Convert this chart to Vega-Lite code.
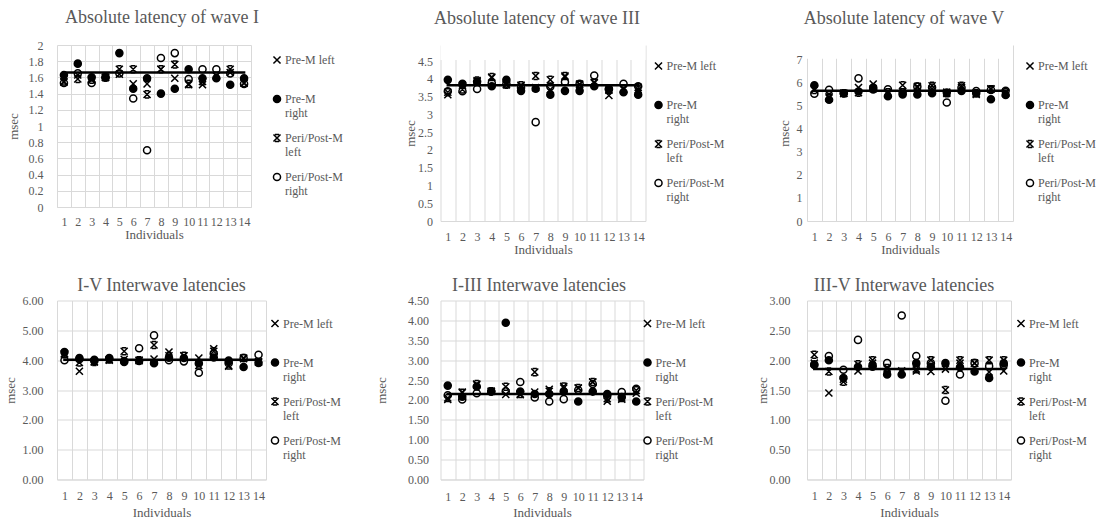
{
  "$schema": "https://vega.github.io/schema/vega-lite/v6.json",
  "background": "white",
  "padding": {"left": 4, "top": 9, "right": 0, "bottom": 0},
  "config": {
    "view": {"stroke": null},
    "font": "Liberation Serif",
    "title": {"font": "Liberation Serif", "fontSize": 18, "fontWeight": "normal", "color": "#595959", "baseline": "alphabetic", "anchor": "middle", "frame": "group"},
    "axis": {"labelFont": "Liberation Serif", "labelFontSize": 12, "labelColor": "#595959", "titleFont": "Liberation Serif", "titleFontSize": 13, "titleFontWeight": "normal", "titleColor": "#595959", "gridColor": "#d9d9d9", "gridWidth": 1, "ticks": false, "domain": false, "labelOverlap": false},
    "legend": {"orient": "right", "padding": 0, "symbolSize": 50, "symbolStrokeWidth": 1.5, "symbolStrokeColor": "black", "labelOffset": 2, "labelFont": "Liberation Serif", "labelFontSize": 12, "labelColor": "#595959", "labelBaseline": "middle", "rowPadding": 12, "titleFontSize": 1, "titleColor": "white"}
  },
  "datasets": {
    "p1": [
      {"i": 1, "Pre-M left": 1.54, "Pre-M right": 1.63, "Peri/Post-M left": 1.55, "Peri/Post-M right": 1.53},
      {"i": 2, "Pre-M left": 1.63, "Pre-M right": 1.77, "Peri/Post-M left": 1.58, "Peri/Post-M right": 1.65},
      {"i": 3, "Pre-M left": 1.58, "Pre-M right": 1.60, "Peri/Post-M left": 1.57, "Peri/Post-M right": 1.53},
      {"i": 4, "Pre-M left": 1.60, "Pre-M right": 1.60, "Peri/Post-M left": 1.60, "Peri/Post-M right": 1.60},
      {"i": 5, "Pre-M left": 1.64, "Pre-M right": 1.90, "Peri/Post-M left": 1.70, "Peri/Post-M right": 1.65},
      {"i": 6, "Pre-M left": 1.52, "Pre-M right": 1.46, "Peri/Post-M left": 1.70, "Peri/Post-M right": 1.34},
      {"i": 7, "Pre-M left": 1.52, "Pre-M right": 1.59, "Peri/Post-M left": 1.39, "Peri/Post-M right": 0.70},
      {"i": 8, "Pre-M left": 1.70, "Pre-M right": 1.40, "Peri/Post-M left": 1.70, "Peri/Post-M right": 1.84},
      {"i": 9, "Pre-M left": 1.59, "Pre-M right": 1.46, "Peri/Post-M left": 1.76, "Peri/Post-M right": 1.90},
      {"i": 10, "Pre-M left": 1.51, "Pre-M right": 1.70, "Peri/Post-M left": 1.52, "Peri/Post-M right": 1.58},
      {"i": 11, "Pre-M left": 1.51, "Pre-M right": 1.59, "Peri/Post-M left": 1.55, "Peri/Post-M right": 1.70},
      {"i": 12, "Pre-M left": 1.62, "Pre-M right": 1.59, "Peri/Post-M left": 1.62, "Peri/Post-M right": 1.70},
      {"i": 13, "Pre-M left": 1.66, "Pre-M right": 1.51, "Peri/Post-M left": 1.70, "Peri/Post-M right": 1.65},
      {"i": 14, "Pre-M left": 1.53, "Pre-M right": 1.59, "Peri/Post-M left": 1.53, "Peri/Post-M right": 1.52}
    ],
    "p2": [
      {"i": 1, "Pre-M left": 3.55, "Pre-M right": 3.97, "Peri/Post-M left": 3.62, "Peri/Post-M right": 3.65},
      {"i": 2, "Pre-M left": 3.82, "Pre-M right": 3.86, "Peri/Post-M left": 3.70, "Peri/Post-M right": 3.65},
      {"i": 3, "Pre-M left": 3.92, "Pre-M right": 3.92, "Peri/Post-M left": 3.95, "Peri/Post-M right": 3.71},
      {"i": 4, "Pre-M left": 4.03, "Pre-M right": 3.79, "Peri/Post-M left": 4.05, "Peri/Post-M right": 3.88},
      {"i": 5, "Pre-M left": 3.85, "Pre-M right": 3.97, "Peri/Post-M left": 3.83, "Peri/Post-M right": 3.86},
      {"i": 6, "Pre-M left": 3.80, "Pre-M right": 3.66, "Peri/Post-M left": 3.82, "Peri/Post-M right": 3.75},
      {"i": 7, "Pre-M left": 3.75, "Pre-M right": 3.72, "Peri/Post-M left": 4.08, "Peri/Post-M right": 2.78},
      {"i": 8, "Pre-M left": 3.70, "Pre-M right": 3.55, "Peri/Post-M left": 3.97, "Peri/Post-M right": 3.78},
      {"i": 9, "Pre-M left": 4.05, "Pre-M right": 3.66, "Peri/Post-M left": 4.08, "Peri/Post-M right": 3.91},
      {"i": 10, "Pre-M left": 3.85, "Pre-M right": 3.66, "Peri/Post-M left": 3.83, "Peri/Post-M right": 3.86},
      {"i": 11, "Pre-M left": 3.90, "Pre-M right": 3.79, "Peri/Post-M left": 3.88, "Peri/Post-M right": 4.09},
      {"i": 12, "Pre-M left": 3.53, "Pre-M right": 3.72, "Peri/Post-M left": 3.68, "Peri/Post-M right": 3.70},
      {"i": 13, "Pre-M left": 3.70, "Pre-M right": 3.62, "Peri/Post-M left": 3.72, "Peri/Post-M right": 3.86},
      {"i": 14, "Pre-M left": 3.70, "Pre-M right": 3.55, "Peri/Post-M left": 3.76, "Peri/Post-M right": 3.79}
    ],
    "p3": [
      {"i": 1, "Pre-M left": 5.75, "Pre-M right": 5.90, "Peri/Post-M left": 5.70, "Peri/Post-M right": 5.53},
      {"i": 2, "Pre-M left": 5.40, "Pre-M right": 5.27, "Peri/Post-M left": 5.35, "Peri/Post-M right": 5.70},
      {"i": 3, "Pre-M left": 5.55, "Pre-M right": 5.55, "Peri/Post-M left": 5.55, "Peri/Post-M right": 5.55},
      {"i": 4, "Pre-M left": 5.80, "Pre-M right": 5.63, "Peri/Post-M left": 5.58, "Peri/Post-M right": 6.20},
      {"i": 5, "Pre-M left": 5.95, "Pre-M right": 5.80, "Peri/Post-M left": 5.75, "Peri/Post-M right": 5.72},
      {"i": 6, "Pre-M left": 5.55, "Pre-M right": 5.42, "Peri/Post-M left": 5.60, "Peri/Post-M right": 5.73},
      {"i": 7, "Pre-M left": 5.62, "Pre-M right": 5.50, "Peri/Post-M left": 5.90, "Peri/Post-M right": 5.60},
      {"i": 8, "Pre-M left": 5.80, "Pre-M right": 5.50, "Peri/Post-M left": 5.85, "Peri/Post-M right": 5.84},
      {"i": 9, "Pre-M left": 5.75, "Pre-M right": 5.55, "Peri/Post-M left": 5.88, "Peri/Post-M right": 5.80},
      {"i": 10, "Pre-M left": 5.60, "Pre-M right": 5.58, "Peri/Post-M left": 5.55, "Peri/Post-M right": 5.15},
      {"i": 11, "Pre-M left": 5.80, "Pre-M right": 5.65, "Peri/Post-M left": 5.88, "Peri/Post-M right": 5.80},
      {"i": 12, "Pre-M left": 5.50, "Pre-M right": 5.55, "Peri/Post-M left": 5.55, "Peri/Post-M right": 5.65},
      {"i": 13, "Pre-M left": 5.75, "Pre-M right": 5.29, "Peri/Post-M left": 5.73, "Peri/Post-M right": 5.70},
      {"i": 14, "Pre-M left": 5.55, "Pre-M right": 5.48, "Peri/Post-M left": 5.60, "Peri/Post-M right": 5.66}
    ],
    "p4": [
      {"i": 1, "Pre-M left": 4.22, "Pre-M right": 4.27, "Peri/Post-M left": 4.20, "Peri/Post-M right": 4.00},
      {"i": 2, "Pre-M left": 3.63, "Pre-M right": 4.07, "Peri/Post-M left": 3.92, "Peri/Post-M right": 4.03},
      {"i": 3, "Pre-M left": 3.95, "Pre-M right": 4.01, "Peri/Post-M left": 3.94, "Peri/Post-M right": 3.97},
      {"i": 4, "Pre-M left": 4.00, "Pre-M right": 4.07, "Peri/Post-M left": 4.02, "Peri/Post-M right": 4.04},
      {"i": 5, "Pre-M left": 4.03, "Pre-M right": 3.94, "Peri/Post-M left": 4.30, "Peri/Post-M right": 3.97},
      {"i": 6, "Pre-M left": 3.98, "Pre-M right": 3.97, "Peri/Post-M left": 4.00, "Peri/Post-M right": 4.40},
      {"i": 7, "Pre-M left": 4.04, "Pre-M right": 3.90, "Peri/Post-M left": 4.51, "Peri/Post-M right": 4.83},
      {"i": 8, "Pre-M left": 4.27, "Pre-M right": 4.08, "Peri/Post-M left": 4.15, "Peri/Post-M right": 4.00},
      {"i": 9, "Pre-M left": 4.15, "Pre-M right": 4.07, "Peri/Post-M left": 4.15, "Peri/Post-M right": 3.96},
      {"i": 10, "Pre-M left": 4.07, "Pre-M right": 3.89, "Peri/Post-M left": 3.82, "Peri/Post-M right": 3.58},
      {"i": 11, "Pre-M left": 4.38, "Pre-M right": 4.09, "Peri/Post-M left": 4.30, "Peri/Post-M right": 4.22},
      {"i": 12, "Pre-M left": 3.80, "Pre-M right": 3.99, "Peri/Post-M left": 3.82, "Peri/Post-M right": 3.90},
      {"i": 13, "Pre-M left": 4.05, "Pre-M right": 3.77, "Peri/Post-M left": 4.07, "Peri/Post-M right": 4.07},
      {"i": 14, "Pre-M left": 3.95, "Pre-M right": 3.91, "Peri/Post-M left": 3.93, "Peri/Post-M right": 4.18}
    ],
    "p5": [
      {"i": 1, "Pre-M left": 2.01, "Pre-M right": 2.36, "Peri/Post-M left": 2.05, "Peri/Post-M right": 2.12},
      {"i": 2, "Pre-M left": 2.20, "Pre-M right": 2.08, "Peri/Post-M left": 2.18, "Peri/Post-M right": 2.01},
      {"i": 3, "Pre-M left": 2.38, "Pre-M right": 2.34, "Peri/Post-M left": 2.40, "Peri/Post-M right": 2.17},
      {"i": 4, "Pre-M left": 2.22, "Pre-M right": 2.22, "Peri/Post-M left": 2.22, "Peri/Post-M right": 2.21},
      {"i": 5, "Pre-M left": 2.14, "Pre-M right": 3.94, "Peri/Post-M left": 2.33, "Peri/Post-M right": 2.22},
      {"i": 6, "Pre-M left": 2.13, "Pre-M right": 2.21, "Peri/Post-M left": 2.15, "Peri/Post-M right": 2.45},
      {"i": 7, "Pre-M left": 2.20, "Pre-M right": 2.15, "Peri/Post-M left": 2.70, "Peri/Post-M right": 2.06},
      {"i": 8, "Pre-M left": 2.27, "Pre-M right": 2.15, "Peri/Post-M left": 2.22, "Peri/Post-M right": 1.96},
      {"i": 9, "Pre-M left": 2.30, "Pre-M right": 2.21, "Peri/Post-M left": 2.34, "Peri/Post-M right": 2.02},
      {"i": 10, "Pre-M left": 2.30, "Pre-M right": 1.96, "Peri/Post-M left": 2.30, "Peri/Post-M right": 2.25},
      {"i": 11, "Pre-M left": 2.45, "Pre-M right": 2.21, "Peri/Post-M left": 2.45, "Peri/Post-M right": 2.40},
      {"i": 12, "Pre-M left": 1.97, "Pre-M right": 2.15, "Peri/Post-M left": 2.03, "Peri/Post-M right": 2.10},
      {"i": 13, "Pre-M left": 2.02, "Pre-M right": 2.07, "Peri/Post-M left": 2.05, "Peri/Post-M right": 2.20},
      {"i": 14, "Pre-M left": 2.17, "Pre-M right": 1.96, "Peri/Post-M left": 2.24, "Peri/Post-M right": 2.28}
    ],
    "p6": [
      {"i": 1, "Pre-M left": 1.95, "Pre-M right": 1.93, "Peri/Post-M left": 2.09, "Peri/Post-M right": 1.92},
      {"i": 2, "Pre-M left": 1.45, "Pre-M right": 2.00, "Peri/Post-M left": 1.81, "Peri/Post-M right": 2.07},
      {"i": 3, "Pre-M left": 1.68, "Pre-M right": 1.70, "Peri/Post-M left": 1.64, "Peri/Post-M right": 1.84},
      {"i": 4, "Pre-M left": 1.82, "Pre-M right": 1.89, "Peri/Post-M left": 1.93, "Peri/Post-M right": 2.34},
      {"i": 5, "Pre-M left": 1.95, "Pre-M right": 1.89, "Peri/Post-M left": 2.00, "Peri/Post-M right": 1.92},
      {"i": 6, "Pre-M left": 1.85, "Pre-M right": 1.76, "Peri/Post-M left": 1.87, "Peri/Post-M right": 1.95},
      {"i": 7, "Pre-M left": 1.82, "Pre-M right": 1.76, "Peri/Post-M left": 1.80, "Peri/Post-M right": 2.75},
      {"i": 8, "Pre-M left": 1.82, "Pre-M right": 1.95, "Peri/Post-M left": 1.85, "Peri/Post-M right": 2.07},
      {"i": 9, "Pre-M left": 1.81, "Pre-M right": 1.89, "Peri/Post-M left": 2.00, "Peri/Post-M right": 1.95},
      {"i": 10, "Pre-M left": 1.85, "Pre-M right": 1.95, "Peri/Post-M left": 1.50, "Peri/Post-M right": 1.32},
      {"i": 11, "Pre-M left": 1.95, "Pre-M right": 1.88, "Peri/Post-M left": 2.00, "Peri/Post-M right": 1.76},
      {"i": 12, "Pre-M left": 1.95, "Pre-M right": 1.81, "Peri/Post-M left": 1.95, "Peri/Post-M right": 1.95},
      {"i": 13, "Pre-M left": 1.80, "Pre-M right": 1.70, "Peri/Post-M left": 2.00, "Peri/Post-M right": 1.90},
      {"i": 14, "Pre-M left": 1.82, "Pre-M right": 1.95, "Peri/Post-M left": 2.00, "Peri/Post-M right": 1.92}
    ],
    "m1": [{"i": 1, "v": 1.66}, {"i": 14, "v": 1.66}],
    "m2": [{"i": 1, "v": 3.82}, {"i": 14, "v": 3.82}],
    "m3": [{"i": 1, "v": 5.66}, {"i": 14, "v": 5.66}],
    "m4": [{"i": 1, "v": 4.01}, {"i": 14, "v": 4.01}],
    "m5": [{"i": 1, "v": 2.15}, {"i": 14, "v": 2.15}],
    "m6": [{"i": 1, "v": 1.85}, {"i": 14, "v": 1.85}]
  },
  "hconcat": [
    {
      "vconcat": [
        {
          "width": 194, "height": 162,
          "title": {"text": "Absolute latency of wave I", "offset": 12, "dx": 8},
          "layer": [
            {
              "data": {"name": "p1"},
              "transform": [{"fold": ["Pre-M left", "Pre-M right", "Peri/Post-M left", "Peri/Post-M right"], "as": ["s", "v"]}],
              "mark": {"type": "point", "filled": false, "strokeWidth": 1.5, "size": 50, "opacity": 1},
              "encoding": {
                "x": {"field": "i", "type": "ordinal", "title": "Individuals", "scale": {"type": "band", "domain": [1,2,3,4,5,6,7,8,9,10,11,12,13,14], "paddingInner": 0, "paddingOuter": 0}, "axis": {"grid": true, "tickBand": "extent", "labelAngle": 0, "domain": true, "domainColor": "#d9d9d9", "labelPadding": 9, "titlePadding": 1}},
                "y": {"field": "v", "type": "quantitative", "title": "msec", "scale": {"domain": [0, 2], "nice": false}, "axis": {"values": [0, 0.2, 0.4, 0.6, 0.8, 1, 1.2, 1.4, 1.6, 1.8, 2], "tickCount": 50, "labelOverlap": false, "format": "~g", "labelPadding": 14, "titlePadding": 8}},
                "shape": {"field": "s", "type": "nominal", "scale": {"domain": ["Pre-M left", "Pre-M right", "Peri/Post-M left", "Peri/Post-M right"], "range": ["M-1,-1L1,1M1,-1L-1,1", "circle", "M-1,-1L1,1M1,-1L-1,1M-0.6,-1L0.6,-1M-0.6,1L0.6,1", "circle"]}, "legend": {"title": " ", "titlePadding": 8, "offset": 19.5, "labelExpr": "datum.label == 'Pre-M left' ? ['Pre-M left', ' '] : split(datum.label, ' ')", "encode": {"labels": {"update": {"dy": {"value": 7}}}}}},
                "fill": {"field": "s", "type": "nominal", "scale": {"domain": ["Pre-M left", "Pre-M right", "Peri/Post-M left", "Peri/Post-M right"], "range": ["black", "black", "black", "transparent"]}, "legend": {"title": " ", "titlePadding": 8, "offset": 19.5, "labelExpr": "datum.label == 'Pre-M left' ? ['Pre-M left', ' '] : split(datum.label, ' ')", "encode": {"labels": {"update": {"dy": {"value": 7}}}}}},
                "stroke": {"field": "s", "type": "nominal", "scale": {"domain": ["Pre-M left", "Pre-M right", "Peri/Post-M left", "Peri/Post-M right"], "range": ["black", "black", "black", "black"]}, "legend": {"title": " ", "titlePadding": 8, "offset": 19.5, "labelExpr": "datum.label == 'Pre-M left' ? ['Pre-M left', ' '] : split(datum.label, ' ')", "encode": {"labels": {"update": {"dy": {"value": 7}}}}}}
              }
            },
            {
              "data": {"name": "m1"},
              "mark": {"type": "line", "color": "black", "strokeWidth": 2.5, "strokeCap": "square"},
              "encoding": {"x": {"field": "i", "type": "ordinal"}, "y": {"field": "v", "type": "quantitative"}}
            }
          ]
        },
        {
          "width": 209, "height": 179,
          "title": {"text": "I-V Interwave latencies", "offset": 0},
          "layer": [
            {
              "data": {"name": "p4"},
              "transform": [{"fold": ["Pre-M left", "Pre-M right", "Peri/Post-M left", "Peri/Post-M right"], "as": ["s", "v"]}],
              "mark": {"type": "point", "filled": false, "strokeWidth": 1.5, "size": 50, "opacity": 1},
              "encoding": {
                "x": {"field": "i", "type": "ordinal", "title": "Individuals", "scale": {"type": "band", "domain": [1,2,3,4,5,6,7,8,9,10,11,12,13,14], "paddingInner": 0, "paddingOuter": 0}, "axis": {"grid": true, "tickBand": "extent", "labelAngle": 0, "domain": true, "domainColor": "#d9d9d9", "labelPadding": 11, "titlePadding": 5}},
                "y": {"field": "v", "type": "quantitative", "title": "msec", "scale": {"domain": [0, 6], "nice": false}, "axis": {"values": [0, 1, 2, 3, 4, 5, 6], "tickCount": 50, "labelOverlap": false, "format": ".2f", "labelPadding": 14, "titlePadding": 4.5}},
                "shape": {"field": "s", "type": "nominal", "scale": {"domain": ["Pre-M left", "Pre-M right", "Peri/Post-M left", "Peri/Post-M right"], "range": ["M-1,-1L1,1M1,-1L-1,1", "circle", "M-1,-1L1,1M1,-1L-1,1M-0.6,-1L0.6,-1M-0.6,1L0.6,1", "circle"]}, "legend": {"title": " ", "titlePadding": 16, "offset": 3, "labelExpr": "datum.label == 'Pre-M left' ? ['Pre-M left', ' '] : split(datum.label, ' ')", "encode": {"labels": {"update": {"dy": {"value": 7}}}}}},
                "fill": {"field": "s", "type": "nominal", "scale": {"domain": ["Pre-M left", "Pre-M right", "Peri/Post-M left", "Peri/Post-M right"], "range": ["black", "black", "black", "transparent"]}, "legend": {"title": " ", "titlePadding": 16, "offset": 3, "labelExpr": "datum.label == 'Pre-M left' ? ['Pre-M left', ' '] : split(datum.label, ' ')", "encode": {"labels": {"update": {"dy": {"value": 7}}}}}},
                "stroke": {"field": "s", "type": "nominal", "scale": {"domain": ["Pre-M left", "Pre-M right", "Peri/Post-M left", "Peri/Post-M right"], "range": ["black", "black", "black", "black"]}, "legend": {"title": " ", "titlePadding": 16, "offset": 3, "labelExpr": "datum.label == 'Pre-M left' ? ['Pre-M left', ' '] : split(datum.label, ' ')", "encode": {"labels": {"update": {"dy": {"value": 7}}}}}}
              }
            },
            {
              "data": {"name": "m4"},
              "mark": {"type": "line", "color": "black", "strokeWidth": 2.5, "strokeCap": "square"},
              "encoding": {"x": {"field": "i", "type": "ordinal"}, "y": {"field": "v", "type": "quantitative"}}
            }
          ]
        }
      ],
      "spacing": 35.5,
      "resolve": {"scale": {"shape": "independent", "fill": "independent", "stroke": "independent"}, "legend": {"shape": "independent", "fill": "independent", "stroke": "independent"}}
    },
    {
      "vconcat": [
        {
          "width": 205, "height": 176,
          "title": {"text": "Absolute latency of wave III", "offset": 17, "dx": -6},
          "layer": [
            {
              "data": {"values": [{}]},
              "mark": {"type": "rect", "color": "white"},
              "encoding": {"y": {"datum": 4.53, "type": "quantitative"}, "y2": {"datum": 4.95}}
            },
            {
              "data": {"name": "p2"},
              "transform": [{"fold": ["Pre-M left", "Pre-M right", "Peri/Post-M left", "Peri/Post-M right"], "as": ["s", "v"]}],
              "mark": {"type": "point", "filled": false, "strokeWidth": 1.5, "size": 50, "opacity": 1},
              "encoding": {
                "x": {"field": "i", "type": "ordinal", "title": "Individuals", "scale": {"type": "band", "domain": [1,2,3,4,5,6,7,8,9,10,11,12,13,14], "paddingInner": 0, "paddingOuter": 0}, "axis": {"grid": true, "tickBand": "extent", "labelAngle": 0, "domain": true, "domainColor": "#d9d9d9", "labelPadding": 10, "titlePadding": 1}},
                "y": {"field": "v", "type": "quantitative", "title": "msec", "scale": {"domain": [0, 4.95], "nice": false}, "axis": {"values": [0, 0.5, 1, 1.5, 2, 2.5, 3, 3.5, 4, 4.5], "tickCount": 50, "labelOverlap": false, "format": "~g", "labelPadding": 8, "titlePadding": 0}},
                "shape": {"field": "s", "type": "nominal", "scale": {"domain": ["Pre-M left", "Pre-M right", "Peri/Post-M left", "Peri/Post-M right"], "range": ["M-1,-1L1,1M1,-1L-1,1", "circle", "M-1,-1L1,1M1,-1L-1,1M-0.6,-1L0.6,-1M-0.6,1L0.6,1", "circle"]}, "legend": {"title": " ", "titlePadding": 14, "offset": 7, "labelExpr": "datum.label == 'Pre-M left' ? ['Pre-M left', ' '] : split(datum.label, ' ')", "encode": {"labels": {"update": {"dy": {"value": 7}}}}}},
                "fill": {"field": "s", "type": "nominal", "scale": {"domain": ["Pre-M left", "Pre-M right", "Peri/Post-M left", "Peri/Post-M right"], "range": ["black", "black", "black", "transparent"]}, "legend": {"title": " ", "titlePadding": 14, "offset": 7, "labelExpr": "datum.label == 'Pre-M left' ? ['Pre-M left', ' '] : split(datum.label, ' ')", "encode": {"labels": {"update": {"dy": {"value": 7}}}}}},
                "stroke": {"field": "s", "type": "nominal", "scale": {"domain": ["Pre-M left", "Pre-M right", "Peri/Post-M left", "Peri/Post-M right"], "range": ["black", "black", "black", "black"]}, "legend": {"title": " ", "titlePadding": 14, "offset": 7, "labelExpr": "datum.label == 'Pre-M left' ? ['Pre-M left', ' '] : split(datum.label, ' ')", "encode": {"labels": {"update": {"dy": {"value": 7}}}}}}
              }
            },
            {
              "data": {"name": "m2"},
              "mark": {"type": "line", "color": "black", "strokeWidth": 2.5, "strokeCap": "square"},
              "encoding": {"x": {"field": "i", "type": "ordinal"}, "y": {"field": "v", "type": "quantitative"}}
            }
          ]
        },
        {
          "width": 203, "height": 179,
          "title": {"text": "I-III Interwave latencies", "offset": 0, "dx": -3},
          "layer": [
            {
              "data": {"name": "p5"},
              "transform": [{"fold": ["Pre-M left", "Pre-M right", "Peri/Post-M left", "Peri/Post-M right"], "as": ["s", "v"]}],
              "mark": {"type": "point", "filled": false, "strokeWidth": 1.5, "size": 50, "opacity": 1},
              "encoding": {
                "x": {"field": "i", "type": "ordinal", "title": "Individuals", "scale": {"type": "band", "domain": [1,2,3,4,5,6,7,8,9,10,11,12,13,14], "paddingInner": 0, "paddingOuter": 0}, "axis": {"grid": true, "tickBand": "extent", "labelAngle": 0, "domain": true, "domainColor": "#d9d9d9", "labelPadding": 12, "titlePadding": 4}},
                "y": {"field": "v", "type": "quantitative", "title": "msec", "scale": {"domain": [0, 4.5], "nice": false}, "axis": {"values": [0, 0.5, 1, 1.5, 2, 2.5, 3, 3.5, 4, 4.5], "tickCount": 50, "labelOverlap": false, "format": ".2f", "labelPadding": 12, "titlePadding": 19.5}},
                "shape": {"field": "s", "type": "nominal", "scale": {"domain": ["Pre-M left", "Pre-M right", "Peri/Post-M left", "Peri/Post-M right"], "range": ["M-1,-1L1,1M1,-1L-1,1", "circle", "M-1,-1L1,1M1,-1L-1,1M-0.6,-1L0.6,-1M-0.6,1L0.6,1", "circle"]}, "legend": {"title": " ", "titlePadding": 16, "offset": -2, "labelExpr": "datum.label == 'Pre-M left' ? ['Pre-M left', ' '] : split(datum.label, ' ')", "encode": {"labels": {"update": {"dy": {"value": 7}}}}}},
                "fill": {"field": "s", "type": "nominal", "scale": {"domain": ["Pre-M left", "Pre-M right", "Peri/Post-M left", "Peri/Post-M right"], "range": ["black", "black", "black", "transparent"]}, "legend": {"title": " ", "titlePadding": 16, "offset": -2, "labelExpr": "datum.label == 'Pre-M left' ? ['Pre-M left', ' '] : split(datum.label, ' ')", "encode": {"labels": {"update": {"dy": {"value": 7}}}}}},
                "stroke": {"field": "s", "type": "nominal", "scale": {"domain": ["Pre-M left", "Pre-M right", "Peri/Post-M left", "Peri/Post-M right"], "range": ["black", "black", "black", "black"]}, "legend": {"title": " ", "titlePadding": 16, "offset": -2, "labelExpr": "datum.label == 'Pre-M left' ? ['Pre-M left', ' '] : split(datum.label, ' ')", "encode": {"labels": {"update": {"dy": {"value": 7}}}}}}
              }
            },
            {
              "data": {"name": "m5"},
              "mark": {"type": "line", "color": "black", "strokeWidth": 2.5, "strokeCap": "square"},
              "encoding": {"x": {"field": "i", "type": "ordinal"}, "y": {"field": "v", "type": "quantitative"}}
            }
          ]
        }
      ],
      "spacing": 20.5,
      "resolve": {"scale": {"shape": "independent", "fill": "independent", "stroke": "independent"}, "legend": {"shape": "independent", "fill": "independent", "stroke": "independent"}}
    },
    {
      "vconcat": [
        {
          "width": 206, "height": 176,
          "title": {"text": "Absolute latency of wave V", "offset": 17, "dx": -6},
          "layer": [
            {
              "data": {"values": [{}]},
              "mark": {"type": "rect", "color": "white"},
              "encoding": {"y": {"datum": 7.05, "type": "quantitative"}, "y2": {"datum": 7.65}}
            },
            {
              "data": {"name": "p3"},
              "transform": [{"fold": ["Pre-M left", "Pre-M right", "Peri/Post-M left", "Peri/Post-M right"], "as": ["s", "v"]}],
              "mark": {"type": "point", "filled": false, "strokeWidth": 1.5, "size": 50, "opacity": 1},
              "encoding": {
                "x": {"field": "i", "type": "ordinal", "title": "Individuals", "scale": {"type": "band", "domain": [1,2,3,4,5,6,7,8,9,10,11,12,13,14], "paddingInner": 0, "paddingOuter": 0}, "axis": {"grid": true, "tickBand": "extent", "labelAngle": 0, "domain": true, "domainColor": "#d9d9d9", "labelPadding": 10, "titlePadding": 1}},
                "y": {"field": "v", "type": "quantitative", "title": "msec", "scale": {"domain": [0, 7.65], "nice": false}, "axis": {"values": [0, 1, 2, 3, 4, 5, 6, 7], "tickCount": 50, "labelOverlap": false, "format": "~g", "labelPadding": 5, "titlePadding": 4.5}},
                "shape": {"field": "s", "type": "nominal", "scale": {"domain": ["Pre-M left", "Pre-M right", "Peri/Post-M left", "Peri/Post-M right"], "range": ["M-1,-1L1,1M1,-1L-1,1", "circle", "M-1,-1L1,1M1,-1L-1,1M-0.6,-1L0.6,-1M-0.6,1L0.6,1", "circle"]}, "legend": {"title": " ", "titlePadding": 14, "offset": 11, "labelExpr": "datum.label == 'Pre-M left' ? ['Pre-M left', ' '] : split(datum.label, ' ')", "encode": {"labels": {"update": {"dy": {"value": 7}}}}}},
                "fill": {"field": "s", "type": "nominal", "scale": {"domain": ["Pre-M left", "Pre-M right", "Peri/Post-M left", "Peri/Post-M right"], "range": ["black", "black", "black", "transparent"]}, "legend": {"title": " ", "titlePadding": 14, "offset": 11, "labelExpr": "datum.label == 'Pre-M left' ? ['Pre-M left', ' '] : split(datum.label, ' ')", "encode": {"labels": {"update": {"dy": {"value": 7}}}}}},
                "stroke": {"field": "s", "type": "nominal", "scale": {"domain": ["Pre-M left", "Pre-M right", "Peri/Post-M left", "Peri/Post-M right"], "range": ["black", "black", "black", "black"]}, "legend": {"title": " ", "titlePadding": 14, "offset": 11, "labelExpr": "datum.label == 'Pre-M left' ? ['Pre-M left', ' '] : split(datum.label, ' ')", "encode": {"labels": {"update": {"dy": {"value": 7}}}}}}
              }
            },
            {
              "data": {"name": "m3"},
              "mark": {"type": "line", "color": "black", "strokeWidth": 2.5, "strokeCap": "square"},
              "encoding": {"x": {"field": "i", "type": "ordinal"}, "y": {"field": "v", "type": "quantitative"}}
            }
          ]
        },
        {
          "width": 204, "height": 179,
          "title": {"text": "III-V Interwave latencies", "offset": 0, "dx": -5},
          "layer": [
            {
              "data": {"name": "p6"},
              "transform": [{"fold": ["Pre-M left", "Pre-M right", "Peri/Post-M left", "Peri/Post-M right"], "as": ["s", "v"]}],
              "mark": {"type": "point", "filled": false, "strokeWidth": 1.5, "size": 50, "opacity": 1},
              "encoding": {
                "x": {"field": "i", "type": "ordinal", "title": "Individuals", "scale": {"type": "band", "domain": [1,2,3,4,5,6,7,8,9,10,11,12,13,14], "paddingInner": 0, "paddingOuter": 0}, "axis": {"grid": true, "tickBand": "extent", "labelAngle": 0, "domain": true, "domainColor": "#d9d9d9", "labelPadding": 11, "titlePadding": 5}},
                "y": {"field": "v", "type": "quantitative", "title": "msec", "scale": {"domain": [0, 3], "nice": false}, "axis": {"values": [0, 0.5, 1, 1.5, 2, 2.5, 3], "tickCount": 50, "labelOverlap": false, "format": ".2f", "labelPadding": 17, "titlePadding": 0}},
                "shape": {"field": "s", "type": "nominal", "scale": {"domain": ["Pre-M left", "Pre-M right", "Peri/Post-M left", "Peri/Post-M right"], "range": ["M-1,-1L1,1M1,-1L-1,1", "circle", "M-1,-1L1,1M1,-1L-1,1M-0.6,-1L0.6,-1M-0.6,1L0.6,1", "circle"]}, "legend": {"title": " ", "titlePadding": 16, "offset": 4, "labelExpr": "datum.label == 'Pre-M left' ? ['Pre-M left', ' '] : split(datum.label, ' ')", "encode": {"labels": {"update": {"dy": {"value": 7}}}}}},
                "fill": {"field": "s", "type": "nominal", "scale": {"domain": ["Pre-M left", "Pre-M right", "Peri/Post-M left", "Peri/Post-M right"], "range": ["black", "black", "black", "transparent"]}, "legend": {"title": " ", "titlePadding": 16, "offset": 4, "labelExpr": "datum.label == 'Pre-M left' ? ['Pre-M left', ' '] : split(datum.label, ' ')", "encode": {"labels": {"update": {"dy": {"value": 7}}}}}},
                "stroke": {"field": "s", "type": "nominal", "scale": {"domain": ["Pre-M left", "Pre-M right", "Peri/Post-M left", "Peri/Post-M right"], "range": ["black", "black", "black", "black"]}, "legend": {"title": " ", "titlePadding": 16, "offset": 4, "labelExpr": "datum.label == 'Pre-M left' ? ['Pre-M left', ' '] : split(datum.label, ' ')", "encode": {"labels": {"update": {"dy": {"value": 7}}}}}}
              }
            },
            {
              "data": {"name": "m6"},
              "mark": {"type": "line", "color": "black", "strokeWidth": 2.5, "strokeCap": "square"},
              "encoding": {"x": {"field": "i", "type": "ordinal"}, "y": {"field": "v", "type": "quantitative"}}
            }
          ]
        }
      ],
      "spacing": 20.5,
      "resolve": {"scale": {"shape": "independent", "fill": "independent", "stroke": "independent"}, "legend": {"shape": "independent", "fill": "independent", "stroke": "independent"}}
    }
  ],
  "spacing": 30.5,
  "resolve": {"scale": {"shape": "independent", "fill": "independent", "stroke": "independent"}, "legend": {"shape": "independent", "fill": "independent", "stroke": "independent"}}
}
